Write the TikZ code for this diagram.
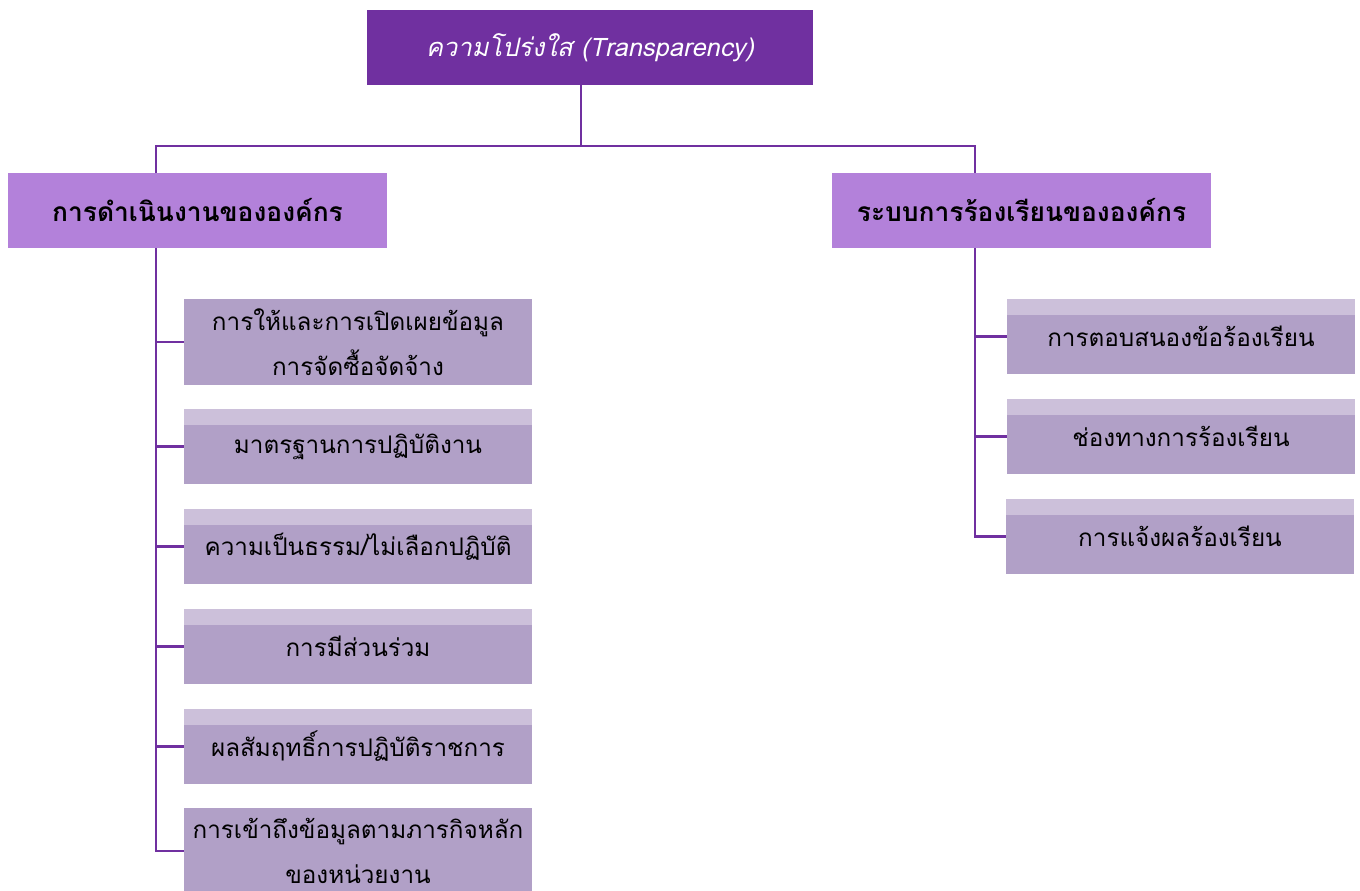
\documentclass[tikz,border=0pt]{standalone}
\usepackage{fontspec}
\newfontfamily\thaifont[Script=Thai]{Loma}
\definecolor{topc}{HTML}{7030A0}
\definecolor{headc}{HTML}{B381DA}
\definecolor{leafc}{HTML}{B1A0C7}
\definecolor{stripc}{HTML}{CCC0DA}
\tikzset{
  link/.style={draw=topc, line width=1.5pt},
  topbox/.style={fill=topc, text=white, minimum width=8.92cm, minimum height=1.5cm, font=\thaifont\itshape\fontsize{14.5}{18}\selectfont},
  headbox/.style={fill=headc, minimum width=7.58cm, minimum height=1.5cm, font=\thaifont\bfseries\fontsize{15}{18}\selectfont},
  leafbox/.style={fill=leafc, minimum width=6.96cm, minimum height=1.5cm, align=center, font=\thaifont\fontsize{13.8}{25.5}\selectfont},
  strip/.style={path picture={\fill[stripc] (path picture bounding box.north west) rectangle ([yshift=-0.32cm]path picture bounding box.north east);}}
}
\begin{document}
\begin{tikzpicture}[x=0.02cm, y=-0.02cm]
\useasboundingbox (0,0) rectangle (1360,891);
% top
\node[topbox] (top) at (590,47.5) {ความโปร่งใส (Transparency)};
\node[headbox] (opr) at (197.5,210.5) {การดำเนินงานขององค์กร};
\node[headbox] (cmp) at (1021.5,210.5) {ระบบการร้องเรียนขององค์กร};
\coordinate (hub) at (581,146);
\coordinate (ltr) at (156,0);
\coordinate (rtr) at (975,0);
\draw[link] (top.south -| hub) -- (hub);
\draw[link] (opr.north -| ltr) |- (hub) -| (cmp.north -| rtr);
% left
\node[leafbox, minimum height=1.72cm] (o1) at (358,342) {การให้และการเปิดเผยข้อมูล\\การจัดซื้อจัดจ้าง};
\node[leafbox, strip] (o2) at (358,446.5) {มาตรฐานการปฏิบัติงาน};
\node[leafbox, strip] (o3) at (358,546.5) {ความเป็นธรรม/ไม่เลือกปฏิบัติ};
\node[leafbox, strip] (o4) at (358,646.5) {การมีส่วนร่วม};
\node[leafbox, strip] (o5) at (358,746.5) {ผลสัมฤทธิ์การปฏิบัติราชการ};
\node[leafbox, minimum height=1.72cm] (o6) at (358,851) {การเข้าถึงข้อมูลตามภารกิจหลัก\\ของหน่วยงาน};
\foreach \i in {1,...,6}
  \draw[link] (opr.south -| ltr) |- (o\i.west);
% right
\node[leafbox, strip] (c1) at (1181,336.5) {การตอบสนองข้อร้องเรียน};
\node[leafbox, strip] (c2) at (1181,436.5) {ช่องทางการร้องเรียน};
\node[leafbox, strip] (c3) at (1180,536.5) {การแจ้งผลร้องเรียน};
\foreach \i in {1,2,3}
  \draw[link] (cmp.south -| rtr) |- (c\i.west);
\end{tikzpicture}
\end{document}
